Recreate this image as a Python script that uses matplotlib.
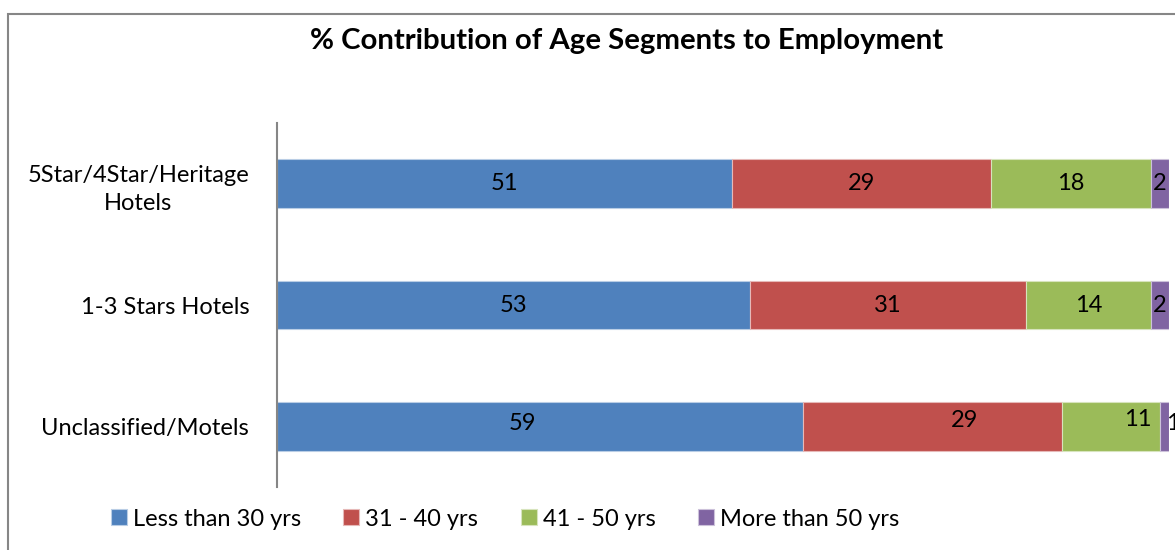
import numpy as np
import matplotlib.pyplot as plt
from matplotlib.patches import Rectangle

plt.rcParams['font.family'] = ['Lato', 'DejaVu Sans']

categories = ['5Star/4Star/Heritage\nHotels', '1-3 Stars Hotels', 'Unclassified/Motels']
segments = ['Less than 30 yrs', '31 - 40 yrs', '41 - 50 yrs', 'More than 50 yrs']
less_30 = [51, 53, 59]
age_31_40 = [29, 31, 29]
age_41_50 = [18, 14, 11]
more_50 = [2, 2, 1]

colors = ['#4F81BD', '#C0504D', '#9BBB59', '#8064A2']
edges = ['#B9CDE5', '#E6B9B8', '#D7E4BD', '#CCC1DA']

# hand-nudged label spots on the bottom row (x in %, y in category units)
label_shift = {(2, 0): (-2.0, -0.02), (2, 1): (3.6, -0.05),
               (2, 2): (3.0, -0.06), (2, 3): (0.9, -0.02)}

fig = plt.figure(figsize=(11.75, 5.5), dpi=100)
ax = fig.add_axes([277 / 1175, 1 - 487 / 550, 892 / 1175, 364 / 550])

# outer chart frame, runs off the right and bottom edges
fig.patches.append(Rectangle((8 / 1175, -1), 2, 1 + (1 - 14 / 550),
                             transform=fig.transFigure, fill=False,
                             edgecolor='#868686', linewidth=1.5))

y = np.arange(len(categories))
series = [less_30, age_31_40, age_41_50, more_50]
left = np.zeros(len(categories))
for s, (vals, name) in enumerate(zip(series, segments)):
    vals = np.array(vals, dtype=float)
    ax.barh(y, vals, left=left, height=0.4, color=colors[s],
            edgecolor=edges[s], linewidth=0.8, label=name)
    for i, v in enumerate(vals):
        dx, dy = label_shift.get((i, s), (0, 0))
        ax.text(left[i] + v / 2 + dx, y[i] + dy, f'{int(v)}',
                ha='center', va='center', fontsize=17, color='black',
                clip_on=False)
    left += vals

ax.set_xlim(0, 100)
ax.set_ylim(2.5, -0.5)
ax.set_yticks(y)
ax.set_yticklabels(categories, fontsize=17, ha='right', multialignment='center',
                   linespacing=1.45)
ax.tick_params(axis='y', length=0, pad=20)
ax.set_xticks([])
for side in ['top', 'right', 'bottom']:
    ax.spines[side].set_visible(False)
ax.spines['left'].set_color('#868686')
ax.spines['left'].set_linewidth(1.5)

fig.text(627 / 1175, 1 - 41 / 550, '% Contribution of Age Segments to Employment',
         ha='center', va='center', fontsize=21.2, fontweight='bold')

fig.legend(loc='center', bbox_to_anchor=(505 / 1175, 1 - 519 / 550), ncol=4,
           frameon=False, fontsize=17, handlelength=0.68, handleheight=0.68,
           handletextpad=0.25, columnspacing=1.8)

fig.savefig('out.png', dpi=100)
